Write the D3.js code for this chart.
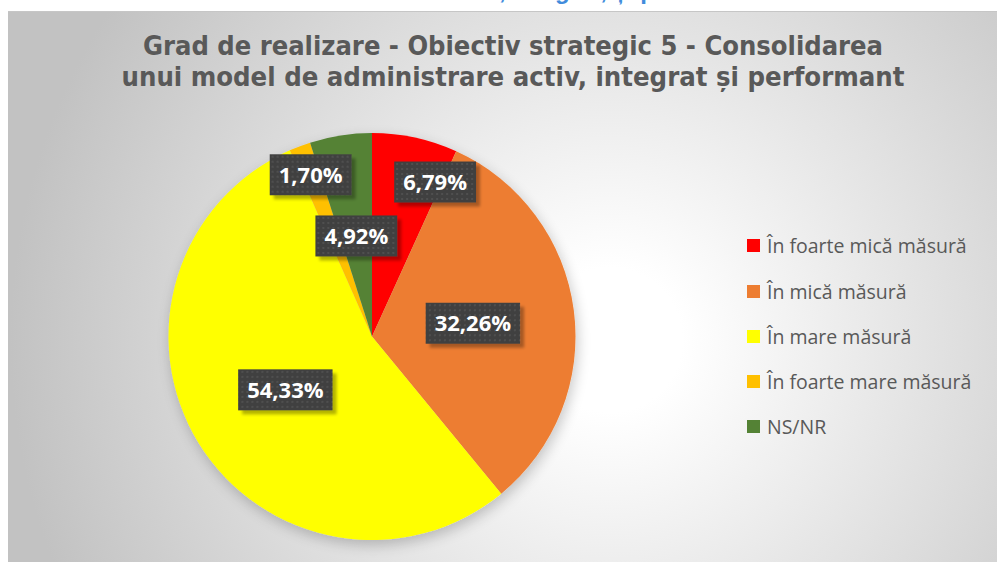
<!DOCTYPE html>
<html><head><meta charset="utf-8">
<script src="https://cdn.jsdelivr.net/npm/d3@7"></script>
<style>body{margin:0;background:#fff;overflow:hidden}</style>
</head><body>
<svg id="c" width="997" height="562"></svg>
<script>
// ---- data ----
const categories = ["În foarte mică măsură","În mică măsură","În mare măsură","În foarte mare măsură","NS/NR"];
const values = [6.79, 32.26, 54.33, 1.70, 4.92];
const valueLabels = ["6,79%","32,26%","54,33%","1,70%","4,92%"];
const colors = ["#FF0000","#ED7D31","#FFFF00","#FFC000","#548235"];
const titleLines = ["Grad de realizare - Obiectiv strategic 5 - Consolidarea",
                    "unui model de administrare activ, integrat și performant"];
const headingText = "activ, integrat, și performant";

// ---- layout ----
const W = 997, H = 562;
const cx = 372, cy = 336.5, R = 203.5;
const labelRadius = [0.82, 0.5, 0.5, 0.85, 0.5];
const labelNudgeDeg = [10, 0, 0, 0, 0];

const svg = d3.select("#c");
const defs = svg.append("defs");

const grad = defs.append("radialGradient").attr("id","bg")
  .attr("gradientUnits","userSpaceOnUse").attr("cx",610).attr("cy",340).attr("r",600);
grad.append("stop").attr("offset",0).attr("stop-color","#ffffff");
grad.append("stop").attr("offset",0.12).attr("stop-color","#ffffff");
grad.append("stop").attr("offset",1).attr("stop-color","#c2c2c2");

const sh = defs.append("filter").attr("id","pieShadow")
  .attr("x","-30%").attr("y","-30%").attr("width","160%").attr("height","160%");
sh.append("feGaussianBlur").attr("in","SourceAlpha").attr("stdDeviation",7).attr("result","b");
sh.append("feOffset").attr("in","b").attr("dx",2).attr("dy",5).attr("result","o");
sh.append("feComponentTransfer").attr("in","o").attr("result","s")
  .append("feFuncA").attr("type","linear").attr("slope",0.22);
const m1 = sh.append("feMerge");
m1.append("feMergeNode").attr("in","s");
m1.append("feMergeNode").attr("in","SourceGraphic");

const lsh = defs.append("filter").attr("id","lblShadow")
  .attr("x","-20%").attr("y","-30%").attr("width","150%").attr("height","170%");
lsh.append("feGaussianBlur").attr("in","SourceAlpha").attr("stdDeviation",1.5).attr("result","b");
lsh.append("feOffset").attr("in","b").attr("dx",4).attr("dy",4).attr("result","o");
lsh.append("feComponentTransfer").attr("in","o").attr("result","s")
  .append("feFuncA").attr("type","linear").attr("slope",0.3);
const m2 = lsh.append("feMerge");
m2.append("feMergeNode").attr("in","s");
m2.append("feMergeNode").attr("in","SourceGraphic");

const pat = defs.append("pattern").attr("id","dots")
  .attr("width",5).attr("height",5).attr("patternUnits","userSpaceOnUse");
pat.append("rect").attr("width",5).attr("height",5).attr("fill","#404040");
pat.append("rect").attr("x",1).attr("y",1).attr("width",2).attr("height",2).attr("fill","#505050");

// background white + cut heading (as in the reference, only its lower part shows)
svg.append("rect").attr("width",W).attr("height",H).attr("fill","#fff");
svg.append("text").attr("x",446).attr("y",-1)
  .attr("font-family","Liberation Sans, Arial, sans-serif").attr("font-weight","bold")
  .attr("font-size",24).attr("fill","#418CDC").text(headingText);

// chart area
svg.append("rect").attr("x",8).attr("y",11).attr("width",W-8).attr("height",H-11).attr("fill","url(#bg)");
svg.append("line").attr("x1",8).attr("x2",W).attr("y1",11.5).attr("y2",11.5).attr("stroke","#c6c6c6");

// title
const title = svg.append("text").attr("text-anchor","middle")
  .attr("font-family","DejaVu Sans Condensed, DejaVu Sans, sans-serif").attr("font-weight","bold")
  .attr("font-size",27).attr("fill","#595959");
const tWidths = [740, 783];
titleLines.forEach((t,i)=>{
  title.append("tspan").attr("x",513).attr("y",55 + i*31)
    .attr("textLength",tWidths[i]).attr("lengthAdjust","spacingAndGlyphs").text(t);
});

// pie
const pie = d3.pie().sort(null).value(d=>d).startAngle(0).endAngle(2*Math.PI);
const arcs = pie(values);
const arc = d3.arc().innerRadius(0).outerRadius(R);
const g = svg.append("g").attr("transform",`translate(${cx},${cy})`);
g.append("g").attr("filter","url(#pieShadow)")
  .selectAll("path").data(arcs).join("path")
  .attr("d",arc).attr("fill",(d,i)=>colors[i]);

// labels
const lg = g.append("g");
arcs.forEach((d,i)=>{
  const a = (d.startAngle+d.endAngle)/2 + labelNudgeDeg[i]*Math.PI/180;
  const x = Math.sin(a)*R*labelRadius[i], y = -Math.cos(a)*R*labelRadius[i];
  const grp = lg.append("g").attr("transform",`translate(${x},${y})`);
  const box = grp.append("rect").attr("fill","url(#dots)").attr("filter","url(#lblShadow)");
  const t = grp.append("text").attr("text-anchor","middle").attr("dy","0.36em")
    .attr("font-family","Open Sans, DejaVu Sans, sans-serif").attr("font-weight","bold")
    .attr("font-size",22).attr("fill","#ffffff").text(valueLabels[i]);
  const w = t.node().getComputedTextLength() + 18, h = 41;
  box.attr("x",-w/2).attr("y",-h/2).attr("width",w).attr("height",h);
});

// legend
const legY = [246, 292, 337, 382, 427];
const leg = svg.append("g");
categories.forEach((c,i)=>{
  leg.append("rect").attr("x",747).attr("y",legY[i]-7).attr("width",13).attr("height",13).attr("fill",colors[i]);
  leg.append("text").attr("x",767).attr("y",legY[i]).attr("dy","0.35em")
    .attr("font-family","Open Sans, DejaVu Sans, sans-serif").attr("font-size",19.5)
    .attr("fill","#595959").text(c);
});
</script>
</body></html>
